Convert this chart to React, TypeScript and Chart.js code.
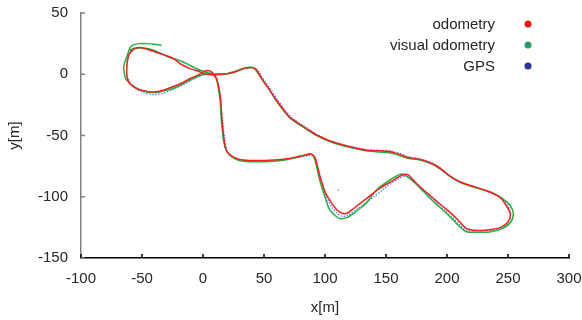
import React, { useEffect, useRef } from "react";
import { Chart, registerables } from "chart.js";

Chart.register(...registerables);

type Pt = [number, number];

const xTicks = [-100, -50, 0, 50, 100, 150, 200, 250, 300];
const yTicks = [-150, -100, -50, 0, 50];
const seriesLabels = ["odometry", "visual odometry", "GPS"];
const legendColors = ["#ff1010", "#2e9b6c", "#2e3196"];

const odometry: Pt[] = [
  [3, 0], [8, -0.5], [14, -0.3], [19, 0.3], [25, 1.5], [30, 3.3], [35, 5], [39, 5.5], [43, 4.5], [46, 0],
  [49, -5], [54, -12], [60, -21], [66, -29], [71, -35], [78, -40], [85, -44.5], [94, -50], [103, -54],
  [112, -57], [122, -59.5], [134, -62], [144, -62.5], [153, -63], [160, -65], [168, -68], [178, -69.5],
  [189, -73.5], [196, -78], [202, -83], [211, -88], [220, -91], [229, -94], [237, -97], [244, -101],
  [249, -108], [252, -114], [250, -120.5], [244, -125], [235, -127], [225, -127.5], [216, -126],
  [210, -120], [205, -115], [198, -109], [192, -104], [185, -98], [178, -92], [172, -86], [168, -82],
  [164, -82], [157, -86], [150, -90], [145, -93], [139, -97.5], [134, -101.5], [128, -106], [123, -110],
  [118, -113.5], [114, -113.5], [110, -111], [106, -106], [104, -103], [100, -96], [98, -90], [96, -84],
  [94.5, -78], [93, -72], [91.5, -67.5], [88, -65], [84, -66], [79, -67], [69, -69], [58, -70],
  [45, -70.5], [33, -70], [27, -68.5], [22, -65.5], [19, -62], [17.5, -55], [16.5, -47], [15.5, -37],
  [15, -29], [14.5, -21], [13.5, -14], [12.5, -9], [11, -4], [9, -0.5], [7, 2], [4, 3], [1, 2.3],
  [-2, 0.5], [-6, -1.5], [-10.6, -3.5], [-16, -6.5], [-21.6, -9], [-27, -11], [-32.5, -13],
  [-38, -14.3], [-43.4, -14.5], [-49, -13.5], [-54.4, -11.7], [-58.5, -9], [-61, -6], [-62.5, -1],
  [-62.5, 4.6], [-62, 10], [-61, 15.5], [-59, 18.5], [-57, 20.4], [-54, 21.7], [-51.6, 21.8],
  [-47, 20.8], [-43.4, 19.6], [-38, 17.8], [-32.5, 16], [-28, 14.5], [-24.3, 12.8], [-21, 10.5],
  [-18.9, 8.7], [-15, 6.5], [-10.6, 4.6], [-6, 3.2], [-2.5, 1.9], [1, 0.5], [3, 0],
];

const visualOdometry: Pt[] = [
  [-34, 23.5], [-40, 24.5], [-46, 25], [-52, 25], [-57, 24], [-59.5, 22], [-61, 18.5], [-62.5, 14],
  [-64, 10], [-65, 6], [-64.5, 1], [-63.5, -3.5], [-61, -6.5], [-58, -9], [-54, -11.5], [-49, -13.5],
  [-44, -14.8], [-38, -14.8], [-32, -13.5], [-26, -12], [-21.6, -10.4], [-15, -7], [-8, -3.5],
  [-3, -1], [3, 0], [8, 0], [14, 0.3], [19.4, 0.5], [25, 2], [30, 3.8], [35, 5.3], [39, 5.5],
  [42, 4.8], [45, 1], [49, -5], [54, -12], [60, -21.5], [66, -29.5], [71, -35.5], [78, -40.5],
  [85, -45], [94, -50.5], [103, -54.5], [112, -57.5], [122, -60], [134, -62.5], [144, -63.5],
  [153, -64], [160, -66], [168, -68.5], [178, -70], [189, -74], [196, -78.5], [202, -83], [211, -88.5],
  [220, -91.5], [230, -94.5], [238, -97], [244, -100.5], [251.6, -107], [254.4, -113.7], [252, -121],
  [245, -126], [235, -128.7], [225, -129], [216, -128.6], [210, -124], [205, -119], [198, -112],
  [190, -105], [182, -97], [175, -90], [168, -84], [163, -81.5], [158, -83.5], [152, -87], [145, -92],
  [140, -97], [134, -105], [128, -110], [123.2, -113.7], [118, -117], [115, -117.8], [112.3, -117.8],
  [109.6, -116.5], [105, -112], [102.7, -108.3], [100, -100], [97.3, -92], [95, -84], [93.2, -75.7],
  [91, -68], [88.5, -65], [85, -66], [79, -67.5], [69, -69.5], [58, -71], [45, -71.5], [33, -71],
  [27, -69.5], [22, -66], [19, -62], [17, -55], [16, -47], [15, -37], [14.5, -29], [14, -21],
  [13, -14], [12, -8], [11, -3], [8, 0], [3, 1.5], [-3, 3.5], [-8, 6], [-13.4, 8.7], [-20, 11.5],
  [-28.4, 14.1], [-35, 17], [-40.7, 19.6], [-45, 20.8], [-49, 21.5], [-53, 21.5], [-57, 21], [-60, 19],
];

const gps: Pt[] = [
  [0, 0], [8, 0], [14, 0.2], [19.4, 0.2], [25, 1.5], [30, 3.3], [35, 5], [40, 5.5], [44, 4], [47, 0],
  [51, -6], [56, -13], [62, -22], [68, -30], [73, -35.5], [80, -40.5], [87, -45], [95, -50], [104, -54],
  [113, -57], [122, -59], [134, -61.5], [144, -62], [153, -62.5], [161, -64.5], [169, -67.5],
  [178, -69], [189, -73], [196, -77.5], [202, -82.5], [211, -88], [220, -91], [229, -94], [237, -97],
  [244, -101], [249.5, -107], [252, -113.5], [250.5, -121], [244, -126], [235, -127.5], [225, -128],
  [216, -127.5], [210, -122.5], [205, -117.5], [198, -111], [191, -104.5], [183, -97], [176, -90],
  [170, -85], [166, -83], [160, -85.5], [152, -90.5], [147, -94.7], [140, -100], [134, -104.5],
  [128, -109], [123, -112.5], [118, -115.5], [114, -116], [110, -113.5], [106, -109], [103, -104],
  [100, -97], [98, -90], [96, -83], [94, -76], [92.5, -70], [90, -66.5], [86, -66.5], [79, -67.5],
  [69, -69.5], [58, -70.5], [45, -71], [33, -70.5], [27, -69], [22, -66], [19.5, -62], [18, -55],
  [17, -47], [16, -37], [15, -29], [14.5, -21], [13.5, -14], [12.5, -8.5], [11, -3], [8, 0.5],
  [3, 2], [-3, 3.5], [-8, 5.5], [-13.4, 8.2], [-20, 11.5], [-28, 14.5], [-35, 17.5], [-41, 19.8],
  [-46, 21], [-51, 21.5], [-56, 20.5], [-59.5, 17.5], [-61.5, 13], [-62.5, 7], [-62.5, 1], [-61, -4.5],
  [-58, -9], [-54, -12.5], [-49, -15], [-41, -16.6], [-33, -15.5], [-25, -12.5], [-15, -8], [-7, -3.5],
  [0, -0.5],
];

const gpsOutlier: Pt[] = [[111, -94.5]];

const toXY = (pts: Pt[]) => pts.map(([x, y]) => ({ x, y }));

const FONT = "'Liberation Sans', Arial, sans-serif";

const decorPlugin = {
  id: "decor",
  afterDraw(chart: any) {
    const { ctx, chartArea, scales } = chart;
    const xs = scales.x;
    const ys = scales.y;
    ctx.save();
    ctx.lineWidth = 1.5;
    ctx.strokeStyle = "#000";
    xTicks.forEach((v) => {
      const px = xs.getPixelForValue(v);
      ctx.beginPath();
      ctx.moveTo(px, chartArea.bottom);
      ctx.lineTo(px, chartArea.bottom - 4);
      ctx.stroke();
    });
    ctx.strokeStyle = "#808080";
    yTicks.forEach((v) => {
      const py = ys.getPixelForValue(v);
      ctx.beginPath();
      ctx.moveTo(chartArea.left, py);
      ctx.lineTo(chartArea.left + 4, py);
      ctx.stroke();
    });
    ctx.font = `15px ${FONT}`;
    ctx.textAlign = "right";
    ctx.textBaseline = "middle";
    seriesLabels.forEach((label, i) => {
      const cy = chartArea.top + 11 + i * 21;
      ctx.fillStyle = "#262626";
      ctx.fillText(label, chartArea.right - 74, cy + 1);
      ctx.fillStyle = legendColors[i];
      ctx.beginPath();
      ctx.arc(chartArea.right - 41, cy, 3.5, 0, Math.PI * 2);
      ctx.fill();
    });
    ctx.restore();
  },
};

export default function App() {
  const ref = useRef<HTMLCanvasElement | null>(null);

  useEffect(() => {
    document.body.style.margin = "0";
    if (!ref.current) return;
    const chart = new Chart(ref.current, {
      type: "scatter",
      data: {
        datasets: [
          {
            label: seriesLabels[0],
            data: toXY(odometry),
            showLine: true,
            borderColor: "#ff1c1c",
            borderWidth: 1.5,
            pointRadius: 0,
            tension: 0.3,
          },
          {
            label: seriesLabels[1],
            data: toXY(visualOdometry),
            showLine: true,
            borderColor: "#1db33c",
            borderWidth: 1.5,
            pointRadius: 0,
            tension: 0.3,
          },
          {
            label: seriesLabels[2],
            data: toXY(gps),
            showLine: true,
            borderColor: "#4f7cff",
            borderWidth: 1.3,
            borderDash: [1.5, 1.5],
            pointRadius: 0,
            tension: 0.3,
          },
          {
            label: seriesLabels[2] + " ",
            data: toXY(gpsOutlier),
            showLine: false,
            pointRadius: 0.8,
            pointBackgroundColor: "#4f7cff",
            pointBorderWidth: 0,
          },
        ],
      },
      options: {
        responsive: false,
        animation: false,
        layout: { padding: { top: 13, right: 13, left: 0, bottom: 0 } },
        plugins: {
          legend: { display: false },
          tooltip: { enabled: false },
        },
        scales: {
          x: {
            type: "linear",
            min: -100,
            max: 300,
            afterFit: (s: any) => {
              s.height = 62;
              s.paddingLeft = 0;
              s.paddingRight = 0;
            },
            afterBuildTicks: (s: any) => {
              s.ticks = xTicks.map((v) => ({ value: v }));
            },
            grid: { display: false, drawTicks: false },
            border: { display: true, color: "#000", width: 1.5 },
            ticks: {
              padding: 12,
              color: "#262626",
              font: { family: FONT, size: 15 },
              maxRotation: 0,
            },
            title: {
              display: true,
              text: "x[m]",
              color: "#262626",
              font: { family: FONT, size: 15 },
              padding: { top: 0, bottom: 3 },
            },
          },
          y: {
            type: "linear",
            min: -150,
            max: 50,
            afterFit: (s: any) => {
              s.width = 81;
              s.paddingTop = 0;
              s.paddingBottom = 0;
            },
            afterBuildTicks: (s: any) => {
              s.ticks = yTicks.map((v) => ({ value: v }));
            },
            grid: { display: false, drawTicks: false },
            border: { display: true, color: "#808080", width: 1.5 },
            ticks: {
              padding: 13,
              color: "#262626",
              font: { family: FONT, size: 15 },
            },
            title: {
              display: true,
              text: "y[m]",
              color: "#262626",
              font: { family: FONT, size: 15 },
              padding: { top: 6, bottom: 0 },
            },
          },
        },
      },
      plugins: [decorPlugin],
    });
    return () => chart.destroy();
  }, []);

  return (
    <div style={{ width: 582, height: 320, background: "#fff" }}>
      <canvas ref={ref} width={582} height={320} />
    </div>
  );
}
